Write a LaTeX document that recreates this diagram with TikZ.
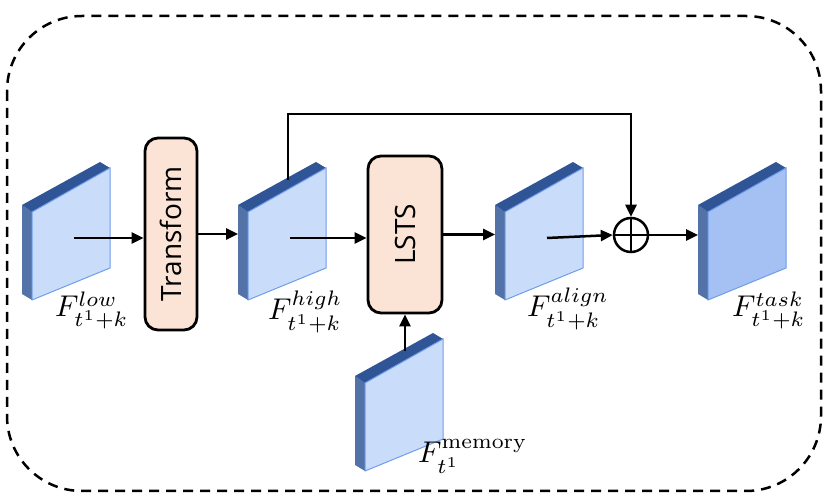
\documentclass[tikz,border=0pt]{standalone}
\usepackage{fontspec}
\usepackage{xcolor}
\usepackage{graphicx}
\usepackage{tikz}
\usetikzlibrary{arrows.meta,positioning,calc}

\newfontfamily\boxfont{Open Sans}
\newcommand{\maptext}[1]{\scalebox{3}{$#1$}}

\definecolor{mapface}{HTML}{C9DDFB}
\definecolor{maptask}{HTML}{A5C1F3}
\definecolor{maptop}{HTML}{2F5597}
\definecolor{mapside}{HTML}{5272A8}
\definecolor{mapedge}{HTML}{6F9DEB}
\definecolor{boxfill}{HTML}{FBE3D6}

% one feature map slab, #1 = colour of the front face
\tikzset{
  pics/featmap/.style={code={
    \fill[mapside] (0,43) -- (10,50) -- (10,138) -- (0,132) -- cycle;
    \fill[maptop] (0,43) -- (78,0) -- (88,6) -- (10,50) -- cycle;
    \filldraw[draw=mapedge, fill=#1, line width=1pt] (10,50) -- (88,6) -- (88,106) -- (10,138) -- cycle;
    \coordinate (-c) at (52,76);
    \coordinate (-in) at (0,75);
    \coordinate (-top) at (50,18);
  }}
}

\begin{document}
\begin{tikzpicture}[x=1pt, y=-1pt,
  conn/.style={line width=2.5pt, -{Triangle[length=12pt, width=11pt]}},
  procbox/.style={draw, line width=2.8pt, rounded corners=13pt, fill=boxfill, font=\boxfont\fontsize{28}{32}\selectfont, inner sep=0pt},
  maplabel/.style={inner sep=0pt}]
\useasboundingbox (0,0) rectangle (831,502);

% Frame
\draw[line width=2.5pt, dash pattern=on 10pt off 7pt, rounded corners=75pt] (7,16) rectangle (821,491);

% Feature maps
\foreach \nm/\x/\y/\col in {low/22/162/mapface, high/238/162/mapface, align/495/162/mapface, task/698/162/maptask, mem/355/333/mapface} {
    \pic (\nm) at (\x,\y) {featmap=\col};
}

% Blocks
\node[procbox, minimum width=52pt, minimum height=192pt] (trans) at (171,234) {\rotatebox{90}{Transform}};
\node[procbox, minimum width=74pt, minimum height=157pt] (lsts) at (405,234.5) {\rotatebox{90}{LSTS}};
\node[draw, circle, line width=2.5pt, minimum size=34pt, inner sep=0pt] (sum) at (631,235) {};
\draw[line width=2.5pt] (sum.north) -- (sum.south) (sum.west) -- (sum.east);
\coordinate (skip) at (631,114);

% Connections
\draw[conn] (low-c) -- (low-c -| trans.west);
\draw[conn] (trans.east) -- (trans.east -| high-in);
\draw[conn] (high-c) -- (high-c -| lsts.west);
\draw[conn] (lsts.east) -- (lsts.east -| align-in);
\draw[conn] (align-c) -- (sum.west);
\draw[conn] (sum.east) -- (sum.east -| task-in);
\draw[conn] (high-top) |- (skip) -- (sum.north);
\draw[conn] (mem-top) -- (mem-top |- lsts.south);

% Labels
\node[maplabel, anchor=base west] (lowlbl) at (55,317) {\maptext{F^{low}_{t^1+k}}};
\node[maplabel, anchor=base west] (highlbl) at (268,320) {\maptext{F^{high}_{t^1+k}}};
\node[maplabel, anchor=base west] (alignlbl) at (527,317) {\maptext{F^{align}_{t^1+k}}};
\node[maplabel, anchor=base west] (tasklbl) at (732,317) {\maptext{F^{task}_{t^1+k}}};
\node[maplabel, anchor=base west] (memlbl) at (418,463) {\maptext{F^{\mathrm{memory}}_{t^1}}};
\end{tikzpicture}
\end{document}
